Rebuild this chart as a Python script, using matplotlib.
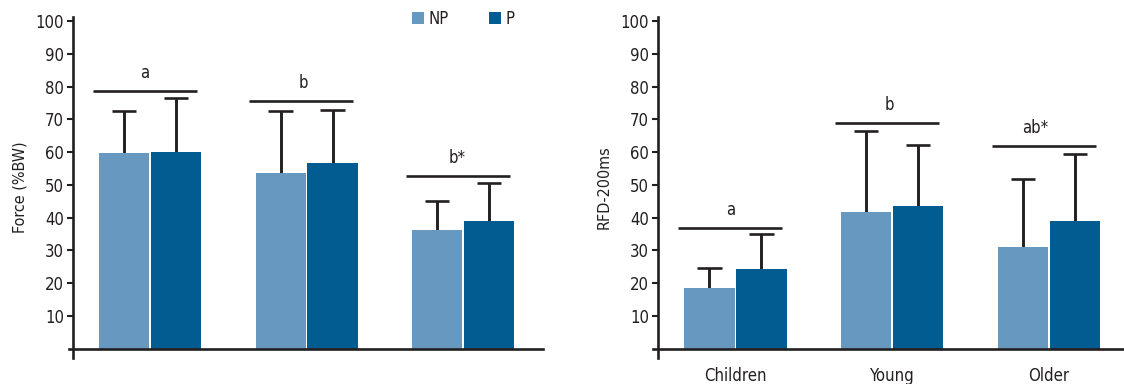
import matplotlib
matplotlib.use("Agg")
import matplotlib.pyplot as plt
from matplotlib.patches import Patch
from matplotlib import font_manager as fm
import numpy as np

fl = fm.fontManager.ttflist
has_lsn = any(f.name == 'Liberation Sans Narrow' for f in fl)
has_dvc = any(f.name == 'DejaVu Sans' and str(f.stretch) in ('condensed', 'semi-condensed') for f in fl)
if has_lsn:
    plt.rcParams['font.family'] = ['Liberation Sans Narrow', 'DejaVu Sans']
elif has_dvc:
    plt.rcParams['font.family'] = ['DejaVu Sans']
    plt.rcParams['font.stretch'] = 'condensed'
else:
    plt.rcParams['font.family'] = ['Liberation Sans', 'DejaVu Sans']

groups = ["Children", "Young", "Older"]
series = ["NP", "P"]

# Left panel: Force (%BW)
force_np = [59.8, 53.7, 36.1]
force_p = [60.0, 56.6, 39.0]
force_np_top = [72.6, 72.5, 45.2]
force_p_top = [76.4, 72.8, 50.5]
force_sig = ["a", "b", "b*"]
force_sig_y = [78.7, 75.6, 52.7]

# Right panel: RFD-200ms
rfd_np = [18.7, 41.8, 31.1]
rfd_p = [24.2, 43.6, 39.0]
rfd_np_top = [24.6, 66.5, 51.8]
rfd_p_top = [35.1, 62.2, 59.5]
rfd_sig = ["a", "b", "ab*"]
rfd_sig_y = [36.9, 68.9, 61.9]

# label horizontal nudges (style)
force_lab_dx = [-0.035, -0.02, -0.035]
rfd_lab_dx = [-0.03, -0.015, -0.09]

c_np = '#6798c0'
c_p = '#005c91'
dark = '#231f20'

fig = plt.figure(figsize=(11.24, 3.84), dpi=100)
ax1 = fig.add_axes([69/1124, (384-358)/384, (543-69)/1124, (358-17)/384])
ax2 = fig.add_axes([653/1124, (384-358)/384, (1124-653)/1124, (358-17)/384])

w = 0.32
off = 0.166
cap = 0.078
lw = 1.9

def draw(ax, npv, pv, npt, pt, sig, sigy, ldx, xl, yspine, ylabel, xlabels):
    x = np.arange(len(groups))
    ax.bar(x - off, npv, w, color=c_np, zorder=2)
    ax.bar(x + off, pv, w, color=c_p, zorder=2)
    for xs, vals, tops in ((x - off, npv, npt), (x + off, pv, pt)):
        ax.vlines(xs, vals, tops, color=dark, lw=2.1, zorder=1)
        ax.hlines(tops, xs - cap, xs + cap, color=dark, lw=lw, zorder=1)
    for xi, s, yy, dx in zip(x, sig, sigy, ldx):
        ax.plot([xi - 0.365, xi + 0.3], [yy, yy], color=dark, lw=lw, solid_capstyle='butt')
        ax.text(xi + dx, yy + 2.7, s, ha='center', va='bottom', fontsize=12, color=dark)
    ax.set_xlim(*xl)
    ax.set_ylim(-2.8, 101.2)
    for s in ['top', 'right']:
        ax.spines[s].set_visible(False)
    ax.spines['bottom'].set_position(('data', 0))
    ax.spines['left'].set_position(('data', yspine))
    for s in ['bottom', 'left']:
        ax.spines[s].set_linewidth(lw)
        ax.spines[s].set_color(dark)
    ax.set_yticks(np.arange(10, 101, 10))
    ax.tick_params(axis='y', length=4.5, width=1.5, color=dark, labelsize=12, labelcolor=dark, pad=2)
    ax.set_xticks(x)
    if xlabels:
        ax.set_xticklabels(groups)
        ax.tick_params(axis='x', length=0, labelsize=12, labelcolor=dark, pad=13)
    else:
        ax.set_xticklabels([])
        ax.tick_params(axis='x', length=0)
    ax.set_ylabel(ylabel, fontsize=11.5, color=dark, labelpad=6)

draw(ax1, force_np, force_p, force_np_top, force_p_top, force_sig, force_sig_y, force_lab_dx,
     (-0.518, 2.511), -0.492, "Force (%BW)", False)
draw(ax2, rfd_np, rfd_p, rfd_np_top, rfd_p_top, rfd_sig, rfd_sig_y, rfd_lab_dx,
     (-0.526, 2.479), -0.495, "RFD-200ms", True)

handles = [Patch(facecolor=c_np, label=series[0]), Patch(facecolor=c_p, label=series[1])]
fig.legend(handles=handles, loc='center left', bbox_to_anchor=(397/1124, 1 - 19/384),
           ncol=2, frameon=False, fontsize=12, handlelength=0.7, handleheight=0.7,
           handletextpad=0.3, columnspacing=2.4, labelcolor=dark)

fig.savefig("out.png", dpi=100)
